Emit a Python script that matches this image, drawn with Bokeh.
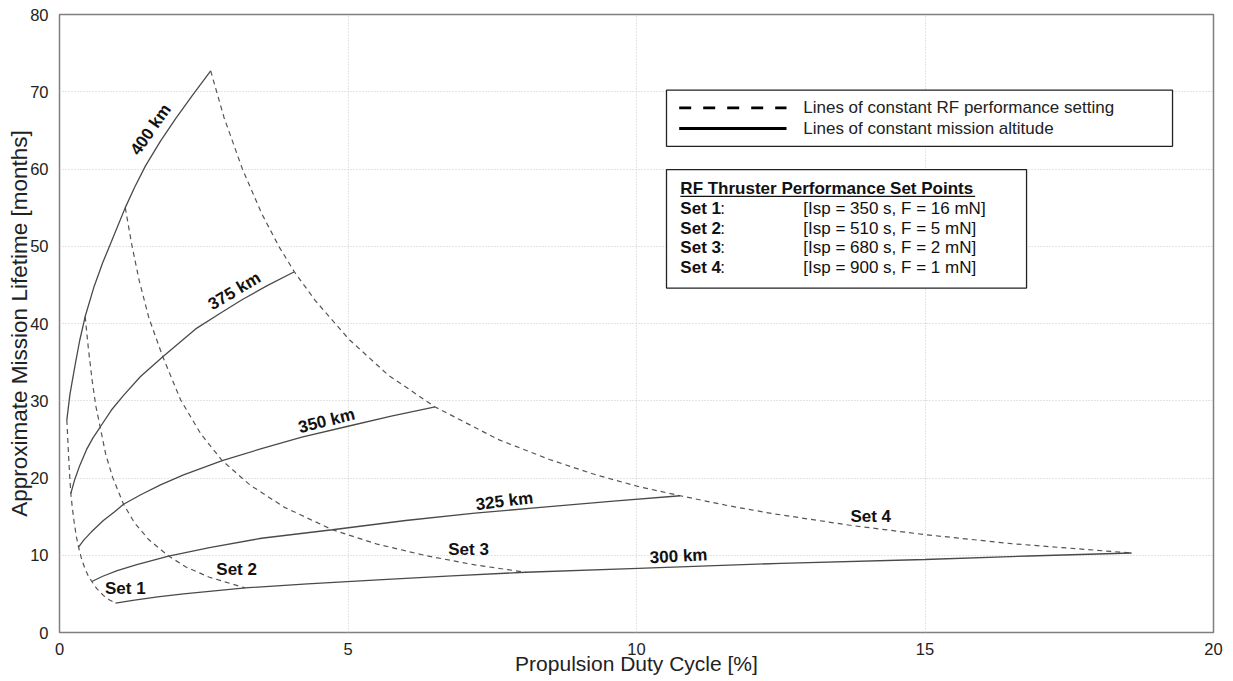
import math
from bokeh.plotting import figure
from bokeh.models import Range1d, FixedTicker, BoxAnnotation, Label
from bokeh.core.properties import value
from bokeh.embed import file_html
from bokeh.resources import INLINE

FONT = "Liberation Sans"

# ---- lines of constant mission altitude (solid), x = duty cycle [%], y = lifetime [months]
alt_names = ["400 km", "375 km", "350 km", "325 km", "300 km"]
alt_400_x = [0.127, 0.18, 0.27, 0.35, 0.445, 0.6, 0.75, 0.9, 1.14, 1.3, 1.49, 1.75, 2.01, 2.3, 2.62]
alt_400_y = [27.5, 30.8, 34.6, 37.8, 40.9, 44.8, 47.9, 50.6, 55.0, 57.6, 60.4, 63.6, 66.5, 69.5, 72.7]
alt_375_x = [0.196, 0.26, 0.35, 0.47, 0.58, 0.705, 0.9, 1.11, 1.4, 1.79, 2.36, 2.8, 3.17, 3.6, 4.07]
alt_375_y = [18.0, 19.7, 21.6, 23.7, 25.2, 26.6, 28.8, 30.7, 33.1, 35.7, 39.3, 41.4, 43.1, 44.9, 46.7]
alt_350_x = [0.33, 0.42, 0.55, 0.76, 0.95, 1.11, 1.4, 1.75, 2.15, 2.82, 3.5, 4.2, 5.0, 5.75, 6.51]
alt_350_y = [11.06, 11.96, 13.0, 14.5, 15.6, 16.6, 17.8, 19.1, 20.4, 22.25, 23.8, 25.3, 26.7, 28.0, 29.2]
alt_325_x = [0.56, 0.75, 1.0, 1.34, 1.89, 2.6, 3.5, 4.73, 6.0, 7.2, 8.49, 9.6, 10.76]
alt_325_y = [6.6, 7.28, 8.0, 8.8, 9.9, 11.0, 12.2, 13.3, 14.5, 15.45, 16.3, 17.0, 17.7]
alt_300_x = [0.97, 1.3, 1.7, 2.15, 3.22, 4.3, 5.6, 6.8, 8.08, 10.03, 12.5, 15.0, 16.8, 18.58]
alt_300_y = [3.8, 4.2, 4.6, 5.0, 5.77, 6.3, 6.85, 7.33, 7.8, 8.3, 8.95, 9.45, 9.9, 10.29]

# ---- lines of constant RF performance setting (dashed)
set_names = ["Set 1", "Set 2", "Set 3", "Set 4"]
set1_x = [0.127, 0.14, 0.156, 0.175, 0.196, 0.22, 0.25, 0.29, 0.33, 0.38, 0.44, 0.5, 0.56, 0.65, 0.76, 0.86, 0.97]
set1_y = [27.5, 25.6, 23.1, 20.5, 18.0, 16.3, 14.5, 12.5, 11.06, 9.6, 8.3, 7.3, 6.6, 5.65, 4.8, 4.25, 3.8]
set2_x = [0.445, 0.5, 0.57, 0.63, 0.705, 0.8, 0.92, 1.11, 1.3, 1.55, 1.89, 2.2, 2.6, 3.22]
set2_y = [40.9, 36.8, 32.4, 29.3, 26.6, 23.1, 20.1, 16.6, 14.2, 12.0, 9.9, 8.45, 7.15, 5.77]
set3_x = [1.14, 1.25, 1.38, 1.55, 1.79, 2.1, 2.45, 2.82, 3.3, 3.9, 4.73, 5.5, 6.35, 7.2, 8.08]
set3_y = [55.0, 50.3, 45.6, 40.7, 35.7, 30.1, 25.7, 22.25, 19.1, 16.2, 13.3, 11.45, 9.95, 8.75, 7.8]
set4_x = [2.62, 2.85, 3.17, 3.5, 3.8, 4.07, 4.43, 5.01, 5.7, 6.51, 7.6, 8.49, 9.3, 10.03, 10.76,
          11.6, 12.35, 13.73, 15.0, 16.5, 18.58]
set4_y = [72.7, 66.7, 60.0, 54.3, 50.0, 46.7, 43.0, 38.0, 33.3, 29.2, 25.0, 22.4, 20.4, 18.9, 17.7,
          16.4, 15.4, 13.85, 12.67, 11.5, 10.29]

# ---- tick values
x_ticks = [0, 5, 10, 15, 20]
y_ticks = [0, 10, 20, 30, 40, 50, 60, 70, 80]

# ---- set point table text
table_title = "RF Thruster Performance Set Points"
table_sets = ["Set 1", "Set 2", "Set 3", "Set 4"]
table_vals = ["[Isp = 350 s, F = 16 mN]", "[Isp = 510 s, F = 5 mN]",
              "[Isp = 680 s, F = 2 mN]", "[Isp = 900 s, F = 1 mN]"]
legend_texts = ["Lines of constant RF performance setting", "Lines of constant mission altitude"]

# label placement (positions / angles, not data)
alt_label_pos = [(1.58, 65.1, 55), (3.03, 44.2, 31), (4.63, 27.4, 14), (7.71, 17.0, 7), (10.73, 9.86, 3)]
set_label_pos = [(1.14, 5.7), (3.07, 8.17), (7.09, 10.77), (14.06, 15.05)]

p = figure(width=1225, height=677, output_backend="svg", toolbar_location=None,
           x_range=Range1d(0, 20), y_range=Range1d(0, 80),
           min_border_left=59, min_border_top=14, min_border_right=12, min_border_bottom=42)
p.background_fill_color = "white"
p.border_fill_color = "white"
p.outline_line_color = "#7f7f7f"
p.outline_line_width = 1.5

for ax in (p.xaxis, p.yaxis):
    ax.axis_line_color = None
    ax.major_tick_line_color = None
    ax.minor_tick_line_color = None
    ax.major_label_text_font = FONT
    ax.major_label_text_font_size = "16.5px"
    ax.major_label_text_color = "#222222"
    ax.axis_label_text_font = FONT
    ax.axis_label_text_font_style = "normal"
    ax.axis_label_text_color = "#222222"
p.xaxis.axis_label_text_font_size = "21px"
p.yaxis.axis_label_text_font_size = "22.5px"
p.xaxis.ticker = FixedTicker(ticks=x_ticks)
p.yaxis.ticker = FixedTicker(ticks=y_ticks)
p.xaxis.axis_label = "Propulsion Duty Cycle [%]"
p.yaxis.axis_label = "Approximate Mission Lifetime [months]"
p.xaxis.major_label_standoff = 4
p.yaxis.major_label_standoff = 5
p.xaxis.axis_label_standoff = -6
p.yaxis.axis_label_standoff = -5

p.grid.grid_line_color = "#c8c8c8"
p.grid.grid_line_dash = "1 2"
p.grid.grid_line_width = 1

# dashed set lines
for sx, sy in [(set1_x, set1_y), (set2_x, set2_y), (set3_x, set3_y), (set4_x, set4_y)]:
    p.line(sx, sy, line_color="#555555", line_width=1.2, line_dash="5 4")

# solid altitude lines
for ax_, ay_ in [(alt_400_x, alt_400_y), (alt_375_x, alt_375_y), (alt_350_x, alt_350_y),
                 (alt_325_x, alt_325_y), (alt_300_x, alt_300_y)]:
    p.line(ax_, ay_, line_color="#4a4a4a", line_width=1.3)

# curve labels
for name, (lx, ly, ang) in zip(alt_names, alt_label_pos):
    p.text(x=[lx], y=[ly], text=[name], angle=math.radians(ang),
           text_font=value(FONT), text_font_style="bold", text_font_size="17px",
           text_color="#111111", text_align="center", text_baseline="middle")
for name, (lx, ly) in zip(set_names, set_label_pos):
    p.text(x=[lx], y=[ly], text=[name],
           text_font=value(FONT), text_font_style="bold", text_font_size="17px",
           text_color="#111111", text_align="center", text_baseline="middle")

# legend box 1
p.add_layout(BoxAnnotation(left=10.52, right=19.29, bottom=62.94, top=70.2,
                           fill_color="white", fill_alpha=1.0,
                           line_color="#222222", line_width=1.3, line_alpha=1.0))
p.line([10.74, 12.60], [67.92, 67.92], line_color="black", line_width=2.8,
       line_dash="12 12", level="overlay")
p.line([10.74, 12.60], [65.24, 65.24], line_color="black", line_width=2.8, level="overlay")
for t, ty in zip(legend_texts, [67.92, 65.24]):
    p.add_layout(Label(x=12.89, y=ty, text=t, text_font=FONT, text_font_size="17px",
                       text_color="#222222", text_baseline="middle"))

# legend box 2 (set point table)
p.add_layout(BoxAnnotation(left=10.52, right=16.76, bottom=44.58, top=59.92,
                           fill_color="white", fill_alpha=1.0,
                           line_color="#222222", line_width=1.3, line_alpha=1.0))
p.add_layout(Label(x=10.76, y=57.5, text=table_title, text_font=FONT, text_font_size="17px",
                   text_font_style="bold", text_color="#111111", text_baseline="middle"))
p.line([10.76, 15.87], [56.45, 56.45], line_color="#111111", line_width=1.3, level="overlay")
row_y = [54.93, 52.36, 49.79, 47.22]
for s, v, ry in zip(table_sets, table_vals, row_y):
    p.add_layout(Label(x=10.76, y=ry, text=s, text_font=FONT, text_font_size="17px",
                       text_font_style="bold", text_color="#111111", text_baseline="middle"))
    p.add_layout(Label(x=11.45, y=ry, text=":", text_font=FONT, text_font_size="17px",
                       text_color="#111111", text_baseline="middle"))
    p.add_layout(Label(x=12.89, y=ry, text=v, text_font=FONT, text_font_size="17px",
                       text_color="#111111", text_baseline="middle"))

open("out.html", "w").write(file_html(p, INLINE))
